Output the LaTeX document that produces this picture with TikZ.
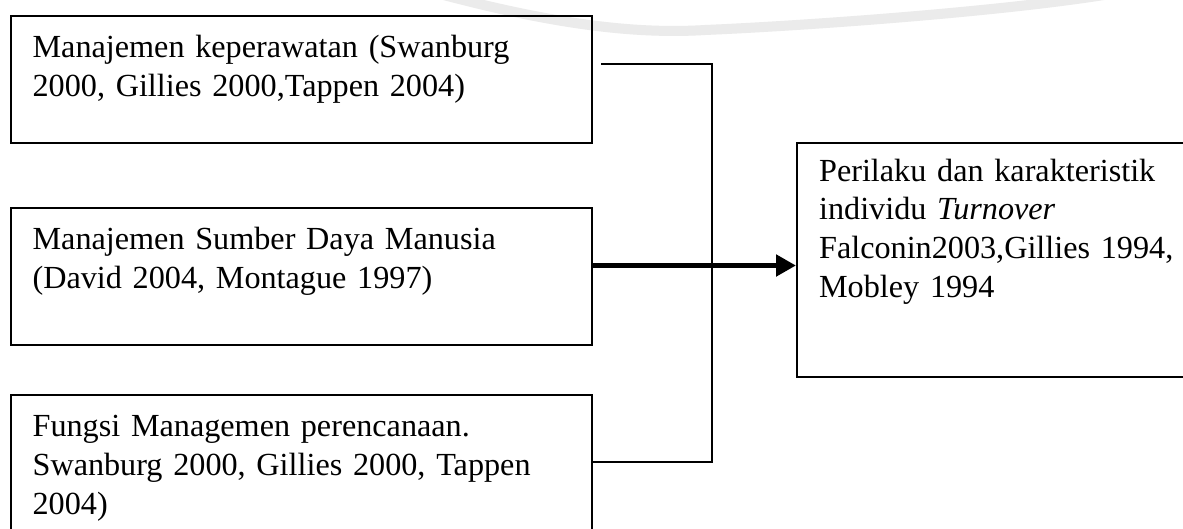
\documentclass[tikz,border=0pt]{standalone}
\usepackage{fontspec}
\setmainfont{Liberation Serif}
\usetikzlibrary{arrows.meta,calc}
\begin{document}
\begin{tikzpicture}[x=1pt,y=-1pt,
  box/.style={draw, line width=2.2pt, anchor=north west, inner xsep=22pt,
    inner ysep=0pt, align=left, font=\fontsize{32.2}{38.8}\selectfont},
  conn/.style={line width=2pt},
  bigarrow/.style={line width=5pt, -{Triangle[length=20pt,width=21pt]}},
  wmark/.style={gray!16, line width=10pt, line cap=round}]
\useasboundingbox (0,0) rectangle (1183,528);
\clip (0,0) rectangle (1183,528);
\fill[white] (0,0) rectangle (1183,528);
% faint watermark
\draw[wmark] (440,-6) .. controls (560,26) and (640,34) .. (705,30)
  .. controls (800,26) and (1000,12) .. (1110,-6);
% boxes
\node[box, text width=537.5pt, text height=41.7pt, text depth=85.3pt] (b1) at (9.5,15)
  {Manajemen keperawatan (Swanburg\\2000, Gillies 2000,Tappen 2004)};
\node[box, text width=537.5pt, text height=41.7pt, text depth=95.3pt] (b2) at (9.5,207)
  {Manajemen Sumber Daya Manusia\\(David 2004, Montague 1997)};
\node[box, text width=537.5pt, text height=41.7pt, text depth=108.3pt] (b3) at (9.5,394)
  {Fungsi Managemen perencanaan.\\Swanburg 2000, Gillies 2000, Tappen\\2004)};
\node[box, text width=376pt, text height=38.3pt, text depth=196pt] (rb) at (796,141.7)
  {Perilaku dan karakteristik\\individu \textit{Turnover}\\Falconin2003,Gillies 1994,\\Mobley 1994};
% connectors
\coordinate (j1) at (712,64);
\coordinate (j3) at (712,461.7);
\coordinate (ay) at (0,265.5);
\draw[conn] ($(b1.east |- j1)+(8,0)$) -- (j1) -- (j3) -- (b3.east |- j3);
\draw[bigarrow] (b2.east |- ay) -- (rb.west |- ay);
\end{tikzpicture}
\end{document}
